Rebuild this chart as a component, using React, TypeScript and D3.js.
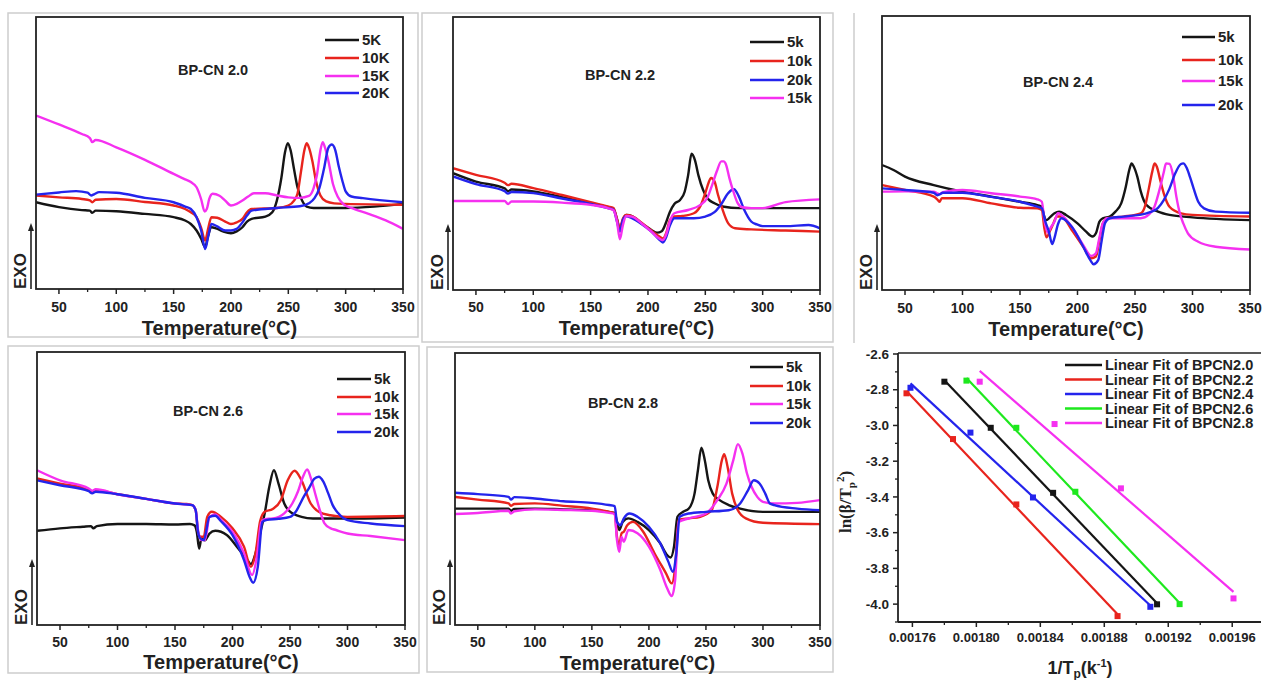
import React from 'react';
import * as d3 from 'd3';

type Pt = [number, number];

// ---- DSC traces: temperature (°C) vs. heat-flow signal (relative units, 0–100 of axis) ----
// BP-CN 2.0
const bp20_5K: Pt[] = [[30,31.9],[50,30.1],[70,29.0],[77,28.8],[79,28.0],[82,28.8],[100,28.6],[125,27.6],[150,26.4],[160,25.2],[165,23.9],[170,21.5],[174,18.5],[177.5,15.3],[180,19.5],[183,22.7],[187,22.3],[193,21.2],[200,20.5],[205,21.2],[210,22.7],[214,24.8],[218,25.8],[230,26.6],[236,28.2],[240,32.5],[244,41],[247,50],[249.5,53.6],[252,51],[255,44],[258,37.4],[262,32.5],[266,30.3],[272,29.8],[300,29.8],[325,30.3],[350,31.3]];
const bp20_10K: Pt[] = [[30,34.4],[50,33.7],[70,33.1],[77,32.6],[79,31.9],[82,32.8],[100,33.1],[125,32.0],[150,30.7],[160,29.4],[165,28.2],[170,26.4],[174,22.5],[177.5,17.8],[180,22],[183,26.4],[188,26.2],[195,24.8],[200,23.9],[205,24.5],[210,25.8],[214,28.2],[218,29.4],[240,29.8],[250,30.7],[255,32.5],[258,35],[261,43],[264,51],[266,53.6],[268,52],[271,47],[274,40],[278,34.4],[283,32.2],[290,31.5],[300,31.3],[350,31.0]];
const bp20_15K: Pt[] = [[30,63.8],[50,60.5],[70,57.0],[77,55.5],[79,54.0],[82,54.8],[100,52.1],[125,47.5],[150,42.3],[160,40.3],[165,39.3],[170,37.4],[174,33],[177,28.5],[179,29.5],[181,33],[184,35.0],[190,34.3],[195,32.5],[200,30.7],[205,31.3],[210,32.5],[215,34],[220,35.2],[230,35.2],[240,34.4],[250,33.7],[260,33.5],[268,34.2],[272,37],[275,42],[278,51],[280,54.0],[282,52],[285,47],[289,38.5],[293,34],[298,31.2],[305,29.8],[320,27.6],[335,25.2],[350,22.1]];
const bp20_20K: Pt[] = [[30,34.7],[50,35.5],[65,36.0],[75,35.4],[78,34.4],[81,34.9],[85,35.6],[100,35.4],[125,33.5],[150,31.9],[160,30.3],[165,29.4],[170,26.4],[174,21.5],[177.5,14.7],[180,19],[183,23.9],[188,23.0],[195,21.5],[200,21.5],[205,22.1],[210,24.5],[214,27.0],[218,28.8],[240,29.8],[260,30.4],[268,31.5],[273,33.5],[277,37],[281,44],[285,52],[288,53.1],[291,51],[294,45],[297,40],[300,35.9],[305,34],[315,33.4],[350,31.9]];

// BP-CN 2.2
const bp22_5k: Pt[] = [[30,42.8],[50,39.7],[75,37.2],[78,36.2],[81,36.8],[100,36.1],[125,34.0],[150,31.8],[165,30.3],[170,29.6],[173,26],[175.5,22],[178,25.5],[181,27.5],[186,27.1],[195,24.2],[203,22.0],[208,21.0],[212,21.5],[216,25],[219,28.5],[223,31.5],[228,33],[232,36],[235,42],[238,49.9],[241,47.5],[244,42],[248,36.7],[252,33.5],[258,31.8],[265,30.6],[280,30.0],[350,30.0]];
const bp22_10k: Pt[] = [[30,44.6],[50,42.2],[75,39.3],[78,38.4],[81,38.9],[100,37.3],[125,34.8],[150,32.2],[165,30.6],[170,30.0],[173,26],[175.5,22.6],[178,26],[181,27.5],[186,27.1],[195,24.5],[203,21.8],[210,19.6],[213,18.9],[216,21],[219,25.5],[223,26.9],[230,27.1],[240,28.1],[246,31],[250,35.5],[253,39.5],[255,41],[258,39.8],[261,35],[265,29.5],[270,24.4],[276,22.6],[290,22.2],[320,21.8],[350,21.4]];
const bp22_20k: Pt[] = [[30,41.6],[50,38.8],[75,36.2],[78,35.3],[81,35.9],[100,35.5],[125,33.5],[150,31.5],[165,30],[170,29.4],[173,25],[175.5,21.4],[178,25.5],[181,27],[186,26.3],[195,24],[203,21.4],[210,18.4],[213,17.4],[216,19.5],[219,23.5],[223,26.3],[240,26.3],[250,26.9],[258,28.5],[264,31.5],[270,35.5],[275,36.9],[279,34.5],[284,29.3],[290,25.1],[295,24],[300,23.4],[320,23.4],[340,23.8],[350,22.6]];
const bp22_15k: Pt[] = [[30,32.6],[50,32.6],[75,32.6],[78,31.5],[81,32.4],[100,32.4],[125,32.0],[150,31.2],[165,30.0],[170,29.2],[173,25],[175.5,18.6],[178,23.5],[181,27.1],[186,26.9],[195,24.2],[203,21.4],[210,18.8],[213,18.3],[216,20.5],[219,25],[223,28.1],[235,29.3],[245,31.0],[252,34],[256,38.5],[260,43.5],[264,47.1],[266,47.1],[268,46],[271,41],[274,36.7],[278,32],[282,30.3],[290,30],[300,30.0],[320,32.2],[350,33.2]];

// BP-CN 2.4
const bp24_5k: Pt[] = [[30,45.6],[40,43.8],[50,41.4],[75,38.3],[100,35.9],[125,34.1],[150,32.2],[165,31.0],[169,30.4],[171,27],[173,25.5],[176,26.5],[180,28.0],[184,28.6],[190,27.4],[200,24.3],[207,21.5],[213,19.5],[216,20.7],[219,24.9],[222,26.2],[228,26.8],[233,28.6],[238,31.6],[242,37.7],[245,43.8],[247,46.2],[249,45],[252,41.4],[255,36],[260,31.0],[270,28.6],[280,27.4],[300,26.5],[350,25.5]];
const bp24_10k: Pt[] = [[30,38.3],[50,36.5],[75,34.1],[78,33.1],[80,32.2],[82,33.5],[100,33.5],[125,31.6],[150,30.0],[165,29.8],[169,29.2],[171,23.1],[173,19.2],[176,21.5],[179,24.3],[182,26.8],[186,26.8],[195,21.9],[205,15.8],[212,11.6],[216,12.2],[219,18],[222,24.3],[226,26.2],[240,26.8],[255,28.0],[259,31],[262,37],[265,43.2],[267,46.2],[269,45],[272,40],[275,35.3],[280,30.4],[290,28.0],[300,27.4],[350,26.8]];
const bp24_15k: Pt[] = [[30,35.9],[50,36.0],[75,35.9],[78,35.3],[80,35.0],[83,35.7],[100,36.5],[125,35.3],[150,34.1],[165,33.1],[169,32.2],[171,26],[174,21],[177,23],[180,25],[183,28.0],[186,27.4],[195,23.1],[205,16.4],[212,12.4],[216,13.4],[219,19],[222,24.3],[226,26.2],[240,26.2],[255,26.2],[262,27.5],[267,30.5],[272,37.7],[275,43],[277,46.2],[280,46],[283,42],[286,34],[289,28],[292,24.3],[296,20.7],[305,17.6],[320,15.8],[350,14.8]];
const bp24_20k: Pt[] = [[30,37.1],[50,36.5],[75,35.5],[78,34.6],[80,34.9],[83,35.5],[100,35.5],[125,34.0],[150,32.2],[165,30.4],[169,29.8],[172,25],[175,21.5],[178,16.8],[180,19],[183,24],[186,26.2],[195,23.1],[205,15.8],[211,11],[214,9.4],[218,10.9],[221,18],[224,24.5],[228,26.2],[240,26.8],[260,28.0],[270,30],[275,32.8],[280,37],[285,42.6],[290,46],[292,46.2],[295,44.5],[298,41],[301,37],[305,32.2],[310,29.8],[320,28.6],[350,28.2]];

// BP-CN 2.6
const bp26_5k: Pt[] = [[30,34.5],[50,35.4],[70,36.0],[77,36.2],[79,35.4],[82,36.2],[100,37.0],[125,37.0],[150,36.8],[163,37.0],[167,36.5],[169,34],[171,28.0],[173,31.7],[176,31],[180,33.5],[185,34.5],[195,33.0],[205,28.0],[212,24.4],[216,22.3],[220,26.2],[224,33.5],[228,40.9],[232,50.6],[236,56.7],[240,51.8],[245,44.5],[250,41.5],[260,39.6],[270,39.0],[300,39.0],[350,39.4]];
const bp26_10k: Pt[] = [[30,53.7],[50,51.8],[75,49.6],[78,48.8],[81,49.4],[100,47.9],[125,46.2],[150,44.5],[160,44.3],[165,43.9],[168,42.1],[170,34.1],[172,32.3],[175,32.3],[178,39.6],[182,41.5],[190,39.6],[200,35.4],[210,28.7],[216,21.3],[220,26.2],[224,38],[228,41.5],[235,42.5],[242,45.7],[248,53],[254,56.5],[260,53],[268,44.5],[275,41.5],[285,40.2],[300,39.6],[350,39.9]];
const bp26_15k: Pt[] = [[30,56.7],[50,53.0],[75,50.0],[78,49.2],[81,49.7],[100,47.9],[125,46.2],[150,44.5],[165,43.9],[168,42],[170,34.8],[173,31.1],[176,31.1],[180,39.6],[185,40.5],[190,38.5],[200,34.1],[210,26.2],[217,18.3],[221,24.5],[225,37.5],[228,38.8],[235,39.0],[245,40.9],[252,44.5],[257,49],[261,54],[265,57.0],[268,54],[272,48],[276,42],[280,37.2],[285,35.5],[290,34.8],[300,33.5],[320,32.6],[350,31.1]];
const bp26_20k: Pt[] = [[30,53.0],[50,51.2],[75,49.0],[78,48.2],[81,48.8],[100,47.9],[125,46.2],[150,44.5],[165,43.9],[168,42],[170,34.1],[172,31.7],[175,31.1],[180,39.6],[185,40],[190,38.0],[200,32.9],[210,23.8],[215,17.5],[218,15.5],[222,21.3],[226,37.8],[230,38.5],[240,38.9],[250,39.6],[255,41.5],[262,47.0],[267,50.5],[271,53.5],[275,54.3],[279,52.5],[283,48.5],[287,44],[292,40.9],[300,38.4],[320,37.2],[350,36.2]];

// BP-CN 2.8
const bp28_5k: Pt[] = [[30,42.8],[50,42.8],[77,42.8],[79,42.0],[82,42.7],[100,42.8],[125,42.5],[150,42.2],[165,41.6],[170,41.2],[172,37.9],[174,34.9],[177,37.9],[182,39.2],[190,37.9],[200,34.9],[210,30.0],[216,25.7],[219,24.8],[222,28.8],[225,39.8],[230,41.6],[235,42.8],[240,48.3],[243,57],[246,65.2],[249,60.6],[252,53.2],[256,48.3],[262,45.9],[270,44.1],[280,42.8],[300,41.6],[350,41.6]];
const bp28_10k: Pt[] = [[30,47.1],[50,46.1],[77,44.7],[79,43.8],[82,44.5],[100,44.7],[125,43.8],[150,42.8],[165,41.6],[170,41.0],[172,32.4],[174,29.4],[176,33.7],[178,34.3],[181,36.7],[186,37.9],[195,34.3],[205,26.3],[215,19.0],[220,15.3],[223,21.4],[226,38.6],[235,39.2],[245,39.8],[255,42.2],[260,50.8],[264,60.6],[266,62.8],[269,58.1],[273,48.3],[278,42.2],[285,39.2],[300,37.6],[350,37.1]];
const bp28_15k: Pt[] = [[30,40.8],[50,41.2],[77,42.0],[79,41.0],[82,41.8],[100,42.5],[125,42.3],[150,42.0],[165,41.2],[170,40.8],[172,31.2],[174,26.9],[176,32.4],[178,30.6],[182,34.9],[190,33.7],[200,28.8],[210,20.2],[216,13.5],[220,10.6],[223,16.5],[226,37.9],[235,39.2],[250,41.0],[260,45.9],[268,52.0],[274,60.6],[278,66.5],[282,63.0],[286,55.7],[290,50.8],[295,47.1],[300,45.3],[310,44.7],[330,44.9],[350,45.9]];
const bp28_20k: Pt[] = [[30,48.6],[50,48.1],[77,47.1],[79,46.1],[82,47.0],[100,46.5],[125,45.5],[150,44.9],[165,44.1],[170,43.7],[172,37.9],[175,36.7],[178,39.2],[183,41.0],[190,39.8],[200,36.1],[210,30.0],[217,23.3],[221,19.6],[224,26.3],[227,39.8],[235,41.0],[250,41.6],[270,42.2],[280,44.7],[287,49.6],[292,53.2],[297,52.0],[302,48.3],[306,44.7],[310,44.1],[330,42.8],[350,42.2]];

const tempMajorTicks = [50, 100, 150, 200, 250, 300, 350];
const tempMinorTicks = [75, 125, 175, 225, 275, 325];

// ---- Kissinger plot: 1/Tp vs ln(β/Tp²) ----
const kisX_20 = [0.001780, 0.001809, 0.001848, 0.001913];
const kisY_20 = [-2.755, -3.013, -3.377, -4.001];
const kisX_22 = [0.0017563, 0.0017854, 0.001825, 0.0018883];
const kisY_22 = [-2.820, -3.076, -3.442, -4.067];
const kisX_24 = [0.0017588, 0.0017963, 0.0018354, 0.0019088];
const kisY_24 = [-2.789, -3.040, -3.403, -4.015];
const kisX_26 = [0.0017938, 0.001825, 0.0018619, 0.0019271];
const kisY_26 = [-2.749, -3.013, -3.371, -4.000];
const kisX_28 = [0.0018021, 0.0018489, 0.0018904, 0.0019608];
const kisY_28 = [-2.755, -2.992, -3.352, -3.968];
const kisXTicks = [0.00176, 0.0018, 0.00184, 0.00188, 0.00192, 0.00196];
const kisXMinor = [0.00178, 0.00182, 0.00186, 0.0019, 0.00194];
const kisYTicks = [-2.6, -2.8, -3.0, -3.2, -3.4, -3.6, -3.8, -4.0];
const kisYMinor = [-2.7, -2.9, -3.1, -3.3, -3.5, -3.7, -3.9, -4.1];

const C_BLACK = '#151515';
const C_RED = '#e8241d';
const C_MAG = '#f530f0';
const C_BLUE = '#2424ec';
const C_GREEN = '#1ee81e';
const SANS = '"Liberation Sans", Arial, Helvetica, sans-serif';
const SERIF = '"Liberation Serif", "Times New Roman", serif';

interface Series { label: string; color: string; data: Pt[] }
interface DscCfg {
  id: string;
  l: number; t: number; r: number; b: number;
  title: string; titleX: number; titleY: number;
  legX1: number; legX2: number; legY: number[];
  series: Series[];
  tickDy: number; labelDy: number;
}

const panels: DscCfg[] = [
  { id: 'p20', l: 36, t: 17, r: 403, b: 289, title: 'BP-CN 2.0', titleX: 213, titleY: 75,
    legX1: 325, legX2: 359, legY: [40, 58, 76, 93], tickDy: 23, labelDy: 46,
    series: [
      { label: '5K', color: C_BLACK, data: bp20_5K },
      { label: '10K', color: C_RED, data: bp20_10K },
      { label: '15K', color: C_MAG, data: bp20_15K },
      { label: '20K', color: C_BLUE, data: bp20_20K },
    ] },
  { id: 'p22', l: 453, t: 17, r: 820, b: 290, title: 'BP-CN 2.2', titleX: 620, titleY: 80,
    legX1: 750, legX2: 784, legY: [42, 61, 80, 98], tickDy: 22, labelDy: 45,
    series: [
      { label: '5k', color: C_BLACK, data: bp22_5k },
      { label: '10k', color: C_RED, data: bp22_10k },
      { label: '20k', color: C_BLUE, data: bp22_20k },
      { label: '15k', color: C_MAG, data: bp22_15k },
    ] },
  { id: 'p24', l: 882, t: 16, r: 1250, b: 290, title: 'BP-CN 2.4', titleX: 1058, titleY: 87,
    legX1: 1182, legX2: 1215, legY: [37, 60, 81, 105], tickDy: 23, labelDy: 46,
    series: [
      { label: '5k', color: C_BLACK, data: bp24_5k },
      { label: '10k', color: C_RED, data: bp24_10k },
      { label: '15k', color: C_MAG, data: bp24_15k },
      { label: '20k', color: C_BLUE, data: bp24_20k },
    ] },
  { id: 'p26', l: 37, t: 352, r: 405, b: 625, title: 'BP-CN 2.6', titleX: 208, titleY: 416,
    legX1: 337, legX2: 371, legY: [379, 397, 414, 432], tickDy: 22, labelDy: 44,
    series: [
      { label: '5k', color: C_BLACK, data: bp26_5k },
      { label: '10k', color: C_RED, data: bp26_10k },
      { label: '15k', color: C_MAG, data: bp26_15k },
      { label: '20k', color: C_BLUE, data: bp26_20k },
    ] },
  { id: 'p28', l: 455, t: 353, r: 820, b: 625, title: 'BP-CN 2.8', titleX: 623, titleY: 408,
    legX1: 750, legX2: 783, legY: [367, 386, 404, 423], tickDy: 22, labelDy: 45,
    series: [
      { label: '5k', color: C_BLACK, data: bp28_5k },
      { label: '10k', color: C_RED, data: bp28_10k },
      { label: '15k', color: C_MAG, data: bp28_15k },
      { label: '20k', color: C_BLUE, data: bp28_20k },
    ] },
];

function DscPanel({ cfg }: { cfg: DscCfg }) {
  const x = d3.scaleLinear().domain([30, 350]).range([cfg.l, cfg.r]);
  const y = d3.scaleLinear().domain([0, 100]).range([cfg.b, cfg.t]);
  const line = d3.line<Pt>().x(d => x(d[0])).y(d => y(d[1])).curve(d3.curveMonotoneX);
  const arrowX = cfg.l - 5;
  return (
    <g>
      <defs>
        <clipPath id={`clip-${cfg.id}`}>
          <rect x={cfg.l} y={cfg.t} width={cfg.r - cfg.l} height={cfg.b - cfg.t} />
        </clipPath>
      </defs>
      <g clipPath={`url(#clip-${cfg.id})`}>
        {cfg.series.map(s => (
          <path key={s.label} d={line(s.data) || ''} fill="none" stroke={s.color}
            strokeWidth={2.4} strokeLinejoin="round" />
        ))}
      </g>
      <rect x={cfg.l} y={cfg.t} width={cfg.r - cfg.l} height={cfg.b - cfg.t}
        fill="none" stroke="#222" strokeWidth={1.8} />
      {tempMajorTicks.map(v => (
        <g key={`M${v}`}>
          <line x1={x(v)} x2={x(v)} y1={cfg.b} y2={cfg.b + 5} stroke="#222" strokeWidth={1.5} />
          <text x={x(v)} y={cfg.b + cfg.tickDy} textAnchor="middle" fontFamily={SANS}
            fontWeight="bold" fontSize={14} fill="#222">{v}</text>
        </g>
      ))}
      {tempMinorTicks.map(v => (
        <line key={`m${v}`} x1={x(v)} x2={x(v)} y1={cfg.b} y2={cfg.b + 3} stroke="#222" strokeWidth={1.3} />
      ))}
      <text x={(cfg.l + cfg.r) / 2} y={cfg.b + cfg.labelDy} textAnchor="middle" fontFamily={SANS}
        fontWeight="bold" fontSize={20} fill="#222">Temperature(°C)</text>
      {/* EXO direction marker */}
      <line x1={arrowX} x2={arrowX} y1={cfg.b} y2={cfg.b - 60} stroke="#222" strokeWidth={1.6} />
      <path d={`M${arrowX - 3},${cfg.b - 58} L${arrowX},${cfg.b - 66} L${arrowX + 3},${cfg.b - 58} Z`} fill="#222" />
      <text transform={`translate(${cfg.l - 10},${cfg.b}) rotate(-90)`} textAnchor="start"
        fontFamily={SANS} fontWeight="bold" fontSize={17} fill="#222">EXO</text>
      <text x={cfg.titleX} y={cfg.titleY} textAnchor="middle" fontFamily={SANS}
        fontWeight="bold" fontSize={14.5} fill="#222">{cfg.title}</text>
      {cfg.series.map((s, i) => (
        <g key={`leg${s.label}`}>
          <line x1={cfg.legX1} x2={cfg.legX2} y1={cfg.legY[i]} y2={cfg.legY[i]} stroke={s.color} strokeWidth={2.6} />
          <text x={cfg.legX2 + 3} y={cfg.legY[i]} dy="0.35em" fontFamily={SANS}
            fontWeight="bold" fontSize={15} fill="#222">{s.label}</text>
        </g>
      ))}
    </g>
  );
}

interface KisSeries { name: string; color: string; xs: number[]; ys: number[] }
const kisSeries: KisSeries[] = [
  { name: 'Linear Fit of BPCN2.0', color: C_BLACK, xs: kisX_20, ys: kisY_20 },
  { name: 'Linear Fit of BPCN2.2', color: C_RED, xs: kisX_22, ys: kisY_22 },
  { name: 'Linear Fit of BPCN2.4', color: C_BLUE, xs: kisX_24, ys: kisY_24 },
  { name: 'Linear Fit of BPCN2.6', color: C_GREEN, xs: kisX_26, ys: kisY_26 },
  { name: 'Linear Fit of BPCN2.8', color: C_MAG, xs: kisX_28, ys: kisY_28 },
];

function fit(xs: number[], ys: number[]) {
  const mx = d3.mean(xs) as number;
  const my = d3.mean(ys) as number;
  let sxy = 0, sxx = 0;
  xs.forEach((v, i) => { sxy += (v - mx) * (ys[i] - my); sxx += (v - mx) * (v - mx); });
  const k = sxy / sxx;
  return (v: number) => my + k * (v - mx);
}

function KissingerPanel() {
  const l = 898, t = 353, r = 1261, b = 622;
  const x = d3.scaleLinear().domain([0.001751, 0.001978]).range([l, r]);
  const y = d3.scaleLinear().domain([-4.1, -2.6]).range([b, t + 1]);
  const legX1 = 1065, legX2 = 1102, legY0 = 365, legStep = 14.5;
  return (
    <g>
      {kisSeries.map(s => {
        const f = fit(s.xs, s.ys);
        const x0 = d3.min(s.xs) as number, x1 = d3.max(s.xs) as number;
        return (
          <g key={s.name}>
            <line x1={x(x0)} y1={y(f(x0))} x2={x(x1)} y2={y(f(x1))} stroke={s.color} strokeWidth={2.2} />
            {s.xs.map((v, i) => (
              <rect key={i} x={x(v) - 3} y={y(s.ys[i]) - 3} width={6} height={6} fill={s.color} />
            ))}
          </g>
        );
      })}
      <line x1={l} x2={l} y1={t} y2={b} stroke="#222" strokeWidth={1.8} />
      <line x1={l} x2={r} y1={b} y2={b} stroke="#222" strokeWidth={1.8} />
      <line x1={l} x2={r} y1={t} y2={t} stroke="#222" strokeWidth={1.5} />
      {kisYTicks.map(v => (
        <g key={`y${v}`}>
          <line x1={l - 5} x2={l} y1={y(v)} y2={y(v)} stroke="#222" strokeWidth={1.5} />
          <text x={l - 9} y={y(v)} dy="0.35em" textAnchor="end" fontFamily={SANS}
            fontWeight="bold" fontSize={13.5} fill="#222">{v.toFixed(1)}</text>
        </g>
      ))}
      {kisYMinor.map(v => (
        <line key={`ym${v}`} x1={l - 3} x2={l} y1={y(v)} y2={y(v)} stroke="#222" strokeWidth={1.3} />
      ))}
      {kisXTicks.map(v => (
        <g key={`x${v}`}>
          <line x1={x(v)} x2={x(v)} y1={b} y2={b + 5} stroke="#222" strokeWidth={1.5} />
          <text x={x(v)} y={b + 20} textAnchor="middle" fontFamily={SANS}
            fontWeight="bold" fontSize={13} fill="#222">{v.toFixed(5)}</text>
        </g>
      ))}
      {kisXMinor.map(v => (
        <line key={`xm${v}`} x1={x(v)} x2={x(v)} y1={b} y2={b + 3} stroke="#222" strokeWidth={1.3} />
      ))}
      <text transform="translate(851,502) rotate(-90)" textAnchor="middle" fontFamily={SERIF}
        fontWeight="bold" fontSize={17} fill="#222">
        ln(β/T<tspan dy={4} fontSize={11}>p</tspan><tspan dy={-11} fontSize={11}>2</tspan><tspan dy={7}>)</tspan>
      </text>
      <text x={1080} y={674} textAnchor="middle" fontFamily={SANS} fontWeight="bold" fontSize={18} fill="#222">
        1/T<tspan dy={4} fontSize={12}>p</tspan><tspan dy={-4}>(k</tspan><tspan dy={-7} fontSize={11}>-1</tspan><tspan dy={7}>)</tspan>
      </text>
      {kisSeries.map((s, i) => (
        <g key={`kl${s.name}`}>
          <line x1={legX1} x2={legX2} y1={legY0 + i * legStep} y2={legY0 + i * legStep} stroke={s.color} strokeWidth={2.6} />
          <text x={legX2 + 3} y={legY0 + i * legStep} dy="0.35em" fontFamily={SANS}
            fontWeight="bold" fontSize={14.5} fill="#222">{s.name}</text>
        </g>
      ))}
    </g>
  );
}

export default function App() {
  return (
    <svg width={1262} height={680} viewBox="0 0 1262 680"
      style={{ position: 'absolute', left: 0, top: 0, background: '#fff' }}>
      <rect x={0} y={0} width={1262} height={680} fill="#fff" />
      {/* sub-figure frames */}
      <g fill="none" stroke="#cdcdcd" strokeWidth={1.5}>
        <rect x={8} y={13} width={410} height={324} />
        <rect x={422} y={13} width={411} height={329} />
        <line x1={854} x2={854} y1={13} y2={343} />
        <rect x={8} y={346} width={411} height={327} />
        <rect x={427} y={347} width={406} height={325} />
      </g>
      {panels.map(p => <DscPanel key={p.id} cfg={p} />)}
      <KissingerPanel />
    </svg>
  );
}
